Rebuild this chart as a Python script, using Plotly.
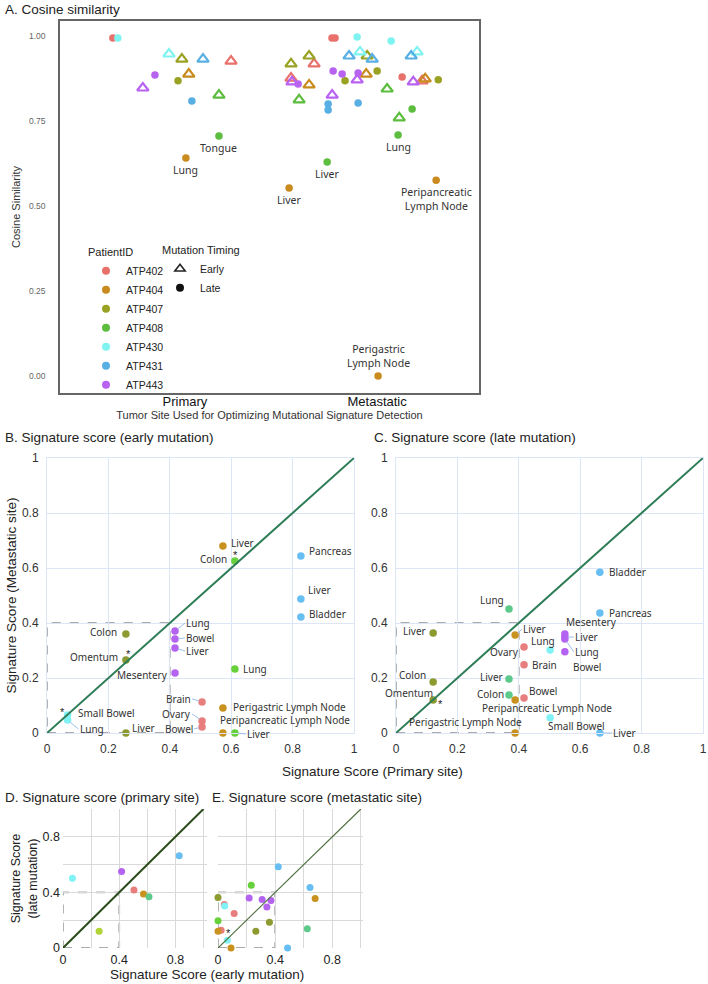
import plotly.graph_objects as go

W, H = 708, 984
def px(x): return x / W
def py(y): return 1 - y / H

FONT = "Liberation Sans, Arial, sans-serif"
LFONT = "Noto Sans, sans-serif"

patients = ["ATP402", "ATP404", "ATP407", "ATP408", "ATP430", "ATP431", "ATP443"]

# ---------------- Panel A data: cosine similarity ----------------
a_patient = ["ATP402", "ATP430", "ATP430", "ATP407", "ATP431", "ATP402", "ATP443", "ATP404", "ATP407", "ATP443",
             "ATP431", "ATP408", "ATP408", "ATP404",
             "ATP402", "ATP402", "ATP430", "ATP430", "ATP407", "ATP407", "ATP402", "ATP402", "ATP443", "ATP443",
             "ATP404", "ATP408", "ATP431", "ATP430", "ATP407", "ATP431", "ATP443", "ATP443", "ATP443", "ATP404",
             "ATP407", "ATP407", "ATP443", "ATP443", "ATP431", "ATP431", "ATP431", "ATP408", "ATP431", "ATP430",
             "ATP402", "ATP443", "ATP402", "ATP404", "ATP407", "ATP408", "ATP408", "ATP408", "ATP408", "ATP404",
             "ATP404", "ATP404"]
a_timing = ["Late", "Late", "Early", "Early", "Early", "Early", "Late", "Early", "Late", "Early",
            "Late", "Early", "Late", "Late",
            "Late", "Late", "Late", "Late", "Early", "Early", "Early", "Early", "Early", "Late",
            "Early", "Early", "Early", "Early", "Early", "Early", "Late", "Late", "Late", "Early",
            "Late", "Late", "Early", "Early", "Late", "Late", "Late", "Early", "Early", "Early",
            "Late", "Early", "Early", "Early", "Late", "Late", "Early", "Late", "Late", "Late",
            "Late", "Late"]
a_site = ["Primary"] * 14 + ["Metastatic"] * 42
a_jitter = [-0.375, -0.349, -0.083, -0.016, 0.094, 0.240, -0.156, 0.020, -0.036, -0.219,
            0.036, 0.177, 0.177, 0.005,
            -0.235, -0.219, -0.104, 0.073, -0.448, -0.354, -0.328, -0.448, -0.443, -0.411,
            -0.354, -0.406, -0.146, -0.089, -0.052, -0.026, -0.229, -0.182, -0.099, -0.057,
            0.000, -0.167, -0.104, -0.234, -0.255, -0.255, -0.099, 0.052, 0.177, 0.208,
            0.130, 0.188, 0.234, 0.250, 0.318, 0.182, 0.115, 0.109, -0.260, -0.458,
            0.307, 0.005]
a_cos = [0.994, 0.994, 0.947, 0.932, 0.932, 0.926, 0.885, 0.888, 0.868, 0.847,
         0.809, 0.826, 0.706, 0.641,
         0.994, 0.994, 0.997, 0.985, 0.918, 0.941, 0.918, 0.876, 0.865, 0.859,
         0.856, 0.812, 0.941, 0.953, 0.941, 0.932, 0.897, 0.888, 0.891, 0.888,
         0.897, 0.868, 0.871, 0.826, 0.800, 0.782, 0.803, 0.844, 0.941, 0.953,
         0.879, 0.865, 0.868, 0.874, 0.871, 0.785, 0.759, 0.709, 0.629, 0.553,
         0.576, 0.000]
a_label = [""] * 12 + ["Tongue", "Lung"] + [""] * 37 + ["Lung", "Liver", "Liver",
                                                        "Peripancreatic<br>Lymph Node", "Perigastric<br>Lymph Node"]
site_pos = {"Primary": 1, "Metastatic": 2}

# ---------------- Signature scores ----------------
# primary tumour site, per patient
prim_early = {"ATP402": 0.505, "ATP404": 0.573, "ATP407": 0.257, "ATP408": 0.612,
              "ATP430": 0.067, "ATP431": 0.827, "ATP443": 0.417}
prim_late = {"ATP402": 0.417, "ATP404": 0.388, "ATP407": 0.121, "ATP408": 0.368,
             "ATP430": 0.502, "ATP431": 0.664, "ATP443": 0.550}
# metastatic sites
met_patient = ["ATP402", "ATP402", "ATP402", "ATP404", "ATP404", "ATP404", "ATP407", "ATP407", "ATP407",
               "ATP408", "ATP408", "ATP408", "ATP430", "ATP430", "ATP431", "ATP431", "ATP431",
               "ATP443", "ATP443", "ATP443", "ATP443"]
met_site = ["Brain", "Ovary", "Bowel", "Liver", "Perigastric Lymph Node", "Peripancreatic Lymph Node",
            "Colon", "Omentum", "Liver", "Colon", "Lung", "Liver", "Small Bowel", "Lung",
            "Pancreas", "Liver", "Bladder", "Lung", "Bowel", "Liver", "Mesentery"]
met_early = [0.113, 0.044, 0.022, 0.680, 0.091, 0.000, 0.360, 0.265, 0.000, 0.625, 0.233, 0.000,
             0.065, 0.047, 0.644, 0.487, 0.422, 0.371, 0.342, 0.309, 0.218]
met_late = [0.248, 0.313, 0.127, 0.356, 0.000, 0.120, 0.185, 0.120, 0.364, 0.138, 0.451, 0.196,
            0.055, 0.302, 0.436, 0.000, 0.585, 0.342, 0.295, 0.349, 0.360]

star_B = [("ATP408", "Colon"), ("ATP407", "Omentum"), ("ATP430", "Small Bowel")]
star_C = [("ATP407", "Omentum")]
star_E = [("ATP430", "Small Bowel")]

# ---------------- styles ----------------
pal_A = {"ATP402": "#E8716B", "ATP404": "#C98A1E", "ATP407": "#9AA224", "ATP408": "#5CBD3E",
         "ATP430": "#7FF3F0", "ATP431": "#58AFE3", "ATP443": "#B862F2"}
pal_B = {"ATP402": "#E87D7D", "ATP404": "#C9921E", "ATP407": "#8C9A30", "ATP408": "#66D13A",
         "ATP430": "#80F2F5", "ATP431": "#66BEF2", "ATP443": "#B363F0"}
pal_C = dict(pal_B, ATP408="#5DC98B")
pal_D = dict(pal_C, ATP407="#B2D335")
pal_E = dict(pal_B)
TEAL = "#5DC98B"

fig = go.Figure()

# ---- Panel A traces ----
for p in patients:
    for t in ["Early", "Late"]:
        idx = [i for i in range(len(a_patient)) if a_patient[i] == p and a_timing[i] == t]
        if not idx:
            continue
        if t == "Early":
            mk = dict(symbol="triangle-up-open", size=10, color=pal_A[p], line=dict(width=2.2, color=pal_A[p]))
        else:
            mk = dict(symbol="circle", size=7.5, color=pal_A[p], line=dict(width=0))
        fig.add_trace(go.Scatter(
            x=[site_pos[a_site[i]] + a_jitter[i] for i in idx], y=[a_cos[i] for i in idx],
            mode="markers", marker=mk, showlegend=False, xaxis="x", yaxis="y", cliponaxis=False,
            hoverinfo="skip"))

# legends for panel A
for p in patients:
    fig.add_trace(go.Scatter(x=[None], y=[None], mode="markers", name=p,
                             marker=dict(symbol="circle", size=8, color=pal_A[p]),
                             legend="legend", xaxis="x", yaxis="y"))
fig.add_trace(go.Scatter(x=[None], y=[None], mode="markers", name="Early",
                         marker=dict(symbol="triangle-up-open", size=9, color="#222",
                                     line=dict(width=1.6, color="#222")),
                         legend="legend2", xaxis="x", yaxis="y"))
fig.add_trace(go.Scatter(x=[None], y=[None], mode="markers", name="Late",
                         marker=dict(symbol="circle", size=8, color="#111"),
                         legend="legend2", xaxis="x", yaxis="y"))

annotations = []
for i, lab in enumerate(a_label):
    if not lab:
        continue
    two = "<br>" in lab
    below = a_cos[i] > 0.1
    shift = (-19 if two else -12) if below else 20
    annotations.append(dict(x=site_pos[a_site[i]] + a_jitter[i], y=a_cos[i], xref="x", yref="y",
                            text=lab, showarrow=False, yshift=shift, xanchor="center", yanchor="middle",
                            font=dict(family=LFONT, size=10.5, color="#333")))

# ---- Panels B, C ----
B_x = [prim_early[p] for p in met_patient]
B_y = met_early
C_x = [prim_late[p] for p in met_patient]
C_y = met_late

for p in patients:
    idx = [i for i in range(len(met_patient)) if met_patient[i] == p]
    fig.add_trace(go.Scatter(x=[B_x[i] for i in idx], y=[B_y[i] for i in idx], mode="markers",
                             marker=dict(size=7.5, color=pal_B[p]), showlegend=False,
                             xaxis="x2", yaxis="y2", cliponaxis=False, hoverinfo="skip"))
    fig.add_trace(go.Scatter(x=[C_x[i] for i in idx], y=[C_y[i] for i in idx], mode="markers",
                             marker=dict(size=7.5, color=pal_C[p]), showlegend=False,
                             xaxis="x3", yaxis="y3", cliponaxis=False, hoverinfo="skip"))

# label placement: (xanchor, dx, dy_up, leader)
lab_B = {("ATP404", "Liver"): ("left", 6, 3, False), ("ATP408", "Colon"): ("right", -6, 2, False),
         ("ATP431", "Pancreas"): ("left", 6, 5, False), ("ATP431", "Liver"): ("left", 5, 9, False),
         ("ATP431", "Bladder"): ("left", 6, 3, False), ("ATP407", "Colon"): ("right", -7, 2, False),
         ("ATP407", "Omentum"): ("right", -6, 3, False), ("ATP407", "Liver"): ("left", 4, 5, False),
         ("ATP443", "Lung"): ("left", 10, 8, True), ("ATP443", "Bowel"): ("left", 10, 1, True),
         ("ATP443", "Liver"): ("left", 10, -3, True), ("ATP443", "Mesentery"): ("right", -5, -2, False),
         ("ATP408", "Lung"): ("left", 6, 0, False), ("ATP402", "Brain"): ("right", -10, 3, True),
         ("ATP402", "Ovary"): ("right", -10, 7, True), ("ATP402", "Bowel"): ("right", -8, -2, True),
         ("ATP404", "Perigastric Lymph Node"): ("left", 8, 1, False),
         ("ATP404", "Peripancreatic Lymph Node"): ("left", -5, 13, False),
         ("ATP408", "Liver"): ("left", 11, -1, True), ("ATP430", "Small Bowel"): ("left", 8, 2, False),
         ("ATP430", "Lung"): ("left", 11, -9, True)}
lab_C = {("ATP431", "Bladder"): ("left", 7, 0, False), ("ATP408", "Lung"): ("right", -3, 9, False),
         ("ATP431", "Pancreas"): ("left", 7, 0, False), ("ATP407", "Liver"): ("right", -5, 2, False),
         ("ATP404", "Liver"): ("left", 7, 6, True), ("ATP402", "Ovary"): ("right", -3, -5, False),
         ("ATP402", "Brain"): ("left", 6, 0, False), ("ATP430", "Lung"): ("right", 7, 9, False),
         ("ATP443", "Mesentery"): ("left", -1, 12, False), ("ATP443", "Liver"): ("left", 9, 0, True),
         ("ATP443", "Lung"): ("left", 9, -13, True), ("ATP443", "Bowel"): ("left", 7, -15, True),
         ("ATP407", "Colon"): ("right", -5, 7, False), ("ATP407", "Omentum"): ("right", 2, 7, False),
         ("ATP408", "Liver"): ("right", -4, 2, False), ("ATP408", "Colon"): ("right", -3, 1, False),
         ("ATP404", "Peripancreatic Lymph Node"): ("center", 32, -8, False),
         ("ATP402", "Bowel"): ("left", 3, 7, False), ("ATP430", "Small Bowel"): ("center", 26, -8, False),
         ("ATP404", "Perigastric Lymph Node"): ("right", 9, 11, False),
         ("ATP431", "Liver"): ("left", 12, 0, True)}

def add_labels(xs, ys, placement, xr, yr):
    for i in range(len(met_patient)):
        key = (met_patient[i], met_site[i])
        xa, dx, dy, leader = placement[key]
        f = dict(family=LFONT, size=10, color="#333")
        if leader:
            annotations.append(dict(x=xs[i], y=ys[i], xref=xr, yref=yr, text=met_site[i], showarrow=True,
                                    arrowhead=0, arrowwidth=1, arrowcolor="#9cc2ea", ax=dx, ay=-dy,
                                    xanchor=xa, yanchor="middle", standoff=3, font=f, borderpad=0))
        else:
            annotations.append(dict(x=xs[i], y=ys[i], xref=xr, yref=yr, text=met_site[i], showarrow=False,
                                    xshift=dx, yshift=dy, xanchor=xa, yanchor="middle", font=f))

add_labels(B_x, B_y, lab_B, "x2", "y2")
add_labels(C_x, C_y, lab_C, "x3", "y3")

def add_stars(xs, ys, keys, xr, yr, dx, dy):
    for i in range(len(met_patient)):
        if (met_patient[i], met_site[i]) in keys:
            annotations.append(dict(x=xs[i], y=ys[i], xref=xr, yref=yr, text="*", showarrow=False,
                                    xshift=dx.get(met_site[i], 0), yshift=dy.get(met_site[i], 0),
                                    font=dict(family=FONT, size=11, color="#222")))

add_stars(B_x, B_y, star_B, "x2", "y2", {"Colon": 1, "Omentum": 3, "Small Bowel": -5},
          {"Colon": 6, "Omentum": 6, "Small Bowel": 3})
add_stars(C_x, C_y, star_C, "x3", "y3", {"Omentum": 7}, {"Omentum": -4})

# ---- Panel D: primary site, early vs late ----
for p in patients:
    fig.add_trace(go.Scatter(x=[prim_early[p]], y=[prim_late[p]], mode="markers",
                             marker=dict(size=7, color=pal_D[p]), showlegend=False,
                             xaxis="x4", yaxis="y4", cliponaxis=False, hoverinfo="skip"))

# ---- Panel E: metastatic site, early vs late ----
for p in patients:
    idx = [i for i in range(len(met_patient)) if met_patient[i] == p]
    cols = [TEAL if (p == "ATP408" and met_site[i] == "Colon") else pal_E[p] for i in idx]
    fig.add_trace(go.Scatter(x=[met_early[i] for i in idx], y=[met_late[i] for i in idx], mode="markers",
                             marker=dict(size=7, color=cols), showlegend=False,
                             xaxis="x5", yaxis="y5", cliponaxis=False, hoverinfo="skip"))
add_stars(met_early, met_late, star_E, "x5", "y5", {"Small Bowel": 1}, {"Small Bowel": 7})

# ---------------- shapes ----------------
shapes = []
for xr, yr, col, w in [("x2", "y2", "#2E7D57", 2), ("x3", "y3", "#2E7D57", 2),
                       ("x4", "y4", "#2C4A1C", 2), ("x5", "y5", "#4E6E3E", 1.2)]:
    shapes.append(dict(type="rect", xref=xr, yref=yr, x0=0, y0=0, x1=0.4, y1=0.4,
                       line=dict(color="#ABABAB", width=1.8, dash="dash"), layer="below"))
    shapes.append(dict(type="line", xref=xr, yref=yr, x0=0, y0=0, x1=1, y1=1,
                       line=dict(color=col, width=w)))

# ---------------- titles ----------------
for txt, x, y in [("A. Cosine similarity", 3, 10), ("B. Signature score (early mutation)", 3, 438),
                  ("C. Signature score (late mutation)", 372, 438),
                  ("D. Signature score (primary site)", 3, 797),
                  ("E. Signature score (metastatic site)", 210, 797)]:
    annotations.append(dict(x=px(x), y=py(y), xref="paper", yref="paper", text=txt, showarrow=False,
                            xanchor="left", yanchor="middle", font=dict(family=FONT, size=13.5, color="#222")))
annotations.append(dict(x=px(372), y=py(771), xref="paper", yref="paper", text="Signature Score (Primary site)",
                        showarrow=False, xanchor="center", yanchor="middle",
                        font=dict(family=FONT, size=13.5, color="#222")))
annotations.append(dict(x=px(207), y=py(974), xref="paper", yref="paper", text="Signature Score (early mutation)",
                        showarrow=False, xanchor="center", yanchor="middle",
                        font=dict(family=FONT, size=13.5, color="#222")))

grid_b = "#DCE6F6"
axB = dict(range=[0, 1], tickvals=[0, 0.2, 0.4, 0.6, 0.8, 1], ticktext=["0", "0.2", "0.4", "0.6", "0.8", "1"],
           showgrid=True, gridcolor=grid_b, gridwidth=1, zeroline=False, showline=True, mirror=True,
           linecolor=grid_b, linewidth=1, tickfont=dict(family=FONT, size=12, color="#333"), ticks="",
           automargin=False, ticklabelstandoff=5)
axD = dict(tickvals=[0, 0.2, 0.4, 0.6, 0.8, 1.0], ticktext=["0", "", "0.4", "", "0.8", ""],
           showgrid=True, gridcolor="#D9D9D9", gridwidth=1.2, zeroline=False, showline=False,
           tickfont=dict(family=FONT, size=12.5, color="#222"), ticks="", automargin=False)

fig.update_layout(
    width=W, height=H, margin=dict(l=0, r=0, t=0, b=0, autoexpand=False),
    paper_bgcolor="white", plot_bgcolor="white",
    font=dict(family=FONT, color="#222"),
    xaxis=dict(domain=[px(60), px(479)], range=[0.35, 2.53], tickvals=[1, 2], ticktext=["Primary", "Metastatic"],
               tickfont=dict(family=FONT, size=13, color="#111"), showgrid=False, zeroline=False,
               showline=True, mirror=True, linecolor="#666", linewidth=1.5, ticks="", automargin=False,
               ticklabelstandoff=-4,
               title=dict(text="Tumor Site Used for Optimizing Mutational Signature Detection",
                          font=dict(family=FONT, size=11, color="#333"), standoff=0)),
    yaxis=dict(domain=[py(393), py(21)], range=[-0.05, 1.044], tickvals=[0, 0.25, 0.5, 0.75, 1.0],
               tickformat=".2f", tickfont=dict(family=FONT, size=8.5, color="#666"), showgrid=False,
               zeroline=False, showline=True, mirror=True, linecolor="#666", linewidth=1.5, ticks="",
               automargin=False, ticklabelstandoff=11,
               title=dict(text="Cosine Similarity", font=dict(family=FONT, size=11, color="#333"), standoff=6)),
    xaxis2=dict(domain=[px(47), px(354)], anchor="y2", **axB),
    yaxis2=dict(domain=[py(733), py(458)], anchor="x2",
                title=dict(text="Signature Score (Metastatic site)", font=dict(family=FONT, size=13.5, color="#222"),
                           standoff=2), **axB),
    xaxis3=dict(domain=[px(396), px(703)], anchor="y3", **axB),
    yaxis3=dict(domain=[py(733), py(458)], anchor="x3", **axB),
    xaxis4=dict(domain=[px(63), px(207)], anchor="y4", range=[0, 1.025], ticklabelstandoff=2, **axD),
    yaxis4=dict(domain=[py(948), py(809)], anchor="x4", range=[0, 1.0], ticklabelstandoff=2,
                title=dict(text="Signature Score<br>(late mutation)", font=dict(family=FONT, size=12.5, color="#222"),
                           standoff=2), **axD),
    xaxis5=dict(domain=[px(218), px(363)], anchor="y5", range=[0, 1.015], ticklabelstandoff=2, **axD),
    yaxis5=dict(domain=[py(948), py(809)], anchor="x5", range=[0, 1.0], showticklabels=False,
                **{k: v for k, v in axD.items() if k not in ("tickfont",)}),
    legend=dict(title=dict(text="PatientID", font=dict(family=FONT, size=11, color="#222")),
                x=px(86), y=py(242), xanchor="left", yanchor="top", bgcolor="rgba(0,0,0,0)",
                font=dict(family=FONT, size=10.5, color="#222"), itemwidth=30, tracegroupgap=0),
    legend2=dict(title=dict(text="Mutation Timing", font=dict(family=FONT, size=11, color="#222")),
                 x=px(160), y=py(240), xanchor="left", yanchor="top", bgcolor="rgba(0,0,0,0)",
                 font=dict(family=FONT, size=10.5, color="#222"), itemwidth=30, tracegroupgap=0),
    annotations=annotations, shapes=shapes,
)

fig.write_html("out.html")
